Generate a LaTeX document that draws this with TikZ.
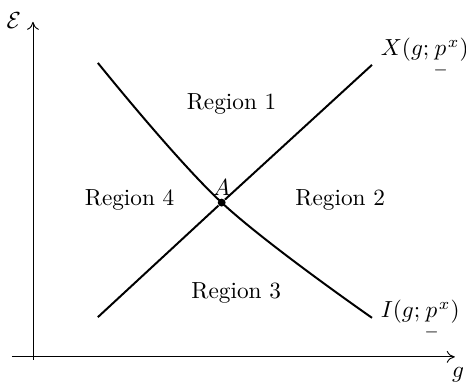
\documentclass[tikz,border=0pt]{standalone}
\usepackage{amsmath,amssymb}
\usetikzlibrary{arrows.meta,positioning,calc}

\begin{document}
\begin{tikzpicture}[
  x=1cm, y=1cm,
  font=\fontsize{10}{12}\selectfont,
  >={To[length=1.2mm,width=1.8mm]},
  axis/.style={->, line width=0.4pt, draw=black},
  curve/.style={line width=0.85pt, draw=black},
  region/.style={inner sep=1pt},
  dot/.style={circle, fill=black, inner sep=0pt, minimum size=3.4pt},
]
\useasboundingbox (-0.498,-0.408) rectangle (6.54,5.39);

% axes
\coordinate (origin) at (0,0);
\coordinate (xend) at (6.37,0);
\coordinate (yend) at (0,5.06);
\draw[axis] (-0.317,0) -- (xend);
\draw[axis] (0,-0.045) -- (yend);
\node (elabel) at (-0.29,5.08) {$\mathcal{E}$};
\node (glabel) at (6.42,-0.27) {$g$};

% the two curves
\coordinate (xstart) at (0.98,0.60);
\coordinate (xstop) at (5.12,4.41);
\coordinate (istart) at (0.98,4.44);
\coordinate (istop) at (5.12,0.59);
\node[dot] (A) at (2.85,2.33) {};

\draw[curve] (xstart) -- (A) -- (xstop);
\draw[curve] plot[smooth, tension=0.6] coordinates {(istart) (A) (istop)};

\node[anchor=south, inner sep=1pt] (alabel) at (A.north) {$A$};
\node[anchor=base west] (xlabel) at (5.13,4.55) {$X(g;{\underset{-}{p}}^x)$};
\node[anchor=base west] (ilabel) at (5.13,0.59) {$I(g;{\underset{-}{p}}^x)$};

% regions
\node[region] (r1) at (3.00,3.82) {Region 1};
\node[region] (r2) at (4.64,2.37) {Region 2};
\node[region] (r3) at (3.07,0.97) {Region 3};
\node[region] (r4) at (1.46,2.37) {Region 4};

\end{tikzpicture}
\end{document}
